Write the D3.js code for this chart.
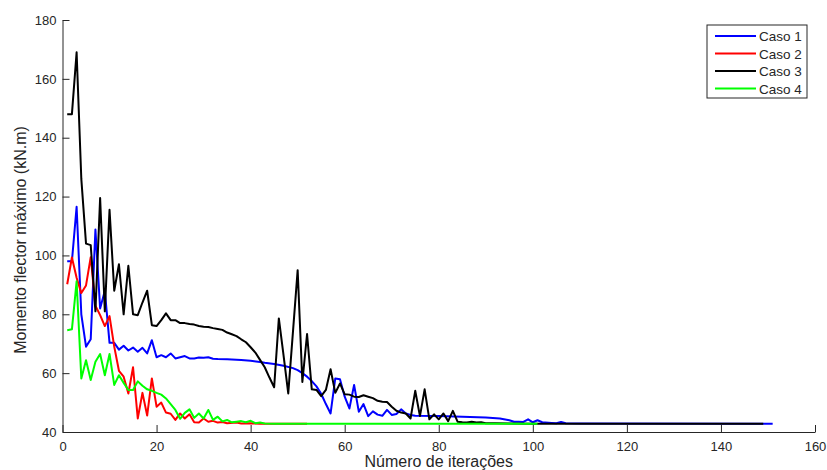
<!DOCTYPE html>
<html>
<head>
<meta charset="utf-8">
<script src="https://cdn.jsdelivr.net/npm/d3@7"></script>
<style>
  body { margin: 0; background: #fff; }
  text { font-family: "Liberation Sans", Arial, sans-serif; fill: #262626; }
</style>
</head>
<body>
<div id="chart"></div>
<script>
// [iteration, momento] pairs
var caso1 = [[1,98],[2,98],[3,116.5],[4,80],[5,69],[6,71.5],[7,108.8],[8,82],[9,88],[10,70.3],
  [11,70.3],[12,68],[13,69.3],[14,67.7],[15,68.7],[16,67.3],[17,68.6],[18,66.7],[19,71.2],[20,65.4],
  [21,66.1],[22,65.4],[23,66.7],[24,65],[25,65.4],[26,65.8],[27,65],[28,65],[29,65.3],[30,65.2],
  [31,65.4],[32,64.9],[33,64.8],[35,64.7],[38,64.5],[40,64.2],[42,63.8],[43,63.5],[45,63.1],[47,62.5],
  [49,61.7],[50,61],[51,60],[52,58.8],[53,57.3],[54,55.5],[55,53],[56,49.5],[57,46.3],[58,58.2],
  [59,57.9],[60,52],[61,48],[62,56],[63,46.9],[64,49.5],[65,45.4],[66,47],[67,45.9],[68,45.5],
  [69,47.5],[70,45.8],[71,46.1],[72,47.7],[73,46.3],[74,45.8],[75,45.5],[80,45.4],[85,45.2],[90,44.9],
  [93,44.6],[95,44],[96,43.5],[97,43.5],[98,43.4],[99,44.3],[100,43.3],[101,44],[102,43.3],[104,43.1],
  [105,43],[106,43.4],[107,43],[110,42.9],[151,42.8]];

var caso2 = [[1,90.2],[2,99.3],[3,92.4],[4,87.2],[5,89.8],[6,99.4],[7,82.9],[8,79.7],[9,76],[10,79.4],
  [11,69],[12,60.8],[13,58.8],[14,53.1],[15,62],[16,44.6],[17,53.3],[18,45.6],[19,58.2],[20,48.6],
  [21,50],[22,46.6],[23,46.2],[24,44.1],[25,46.3],[26,44.6],[27,46],[28,43.3],[29,43.2],[30,44.6],
  [31,43.5],[32,43.8],[33,43.2],[34,43.4],[35,43],[37,43.2],[38,42.9],[40,43],[42,42.8],[52,42.8]];

var caso3 = [[1,148],[2,148],[3,169],[4,126],[5,104],[6,103.5],[7,81],[8,119.5],[9,81],[10,115.5],
  [11,88],[12,97],[13,80],[14,96.5],[15,80],[16,79.7],[17,84],[18,88],[19,76.3],[20,76],
  [21,78],[22,80.3],[23,78],[24,78],[25,77],[26,77],[27,76.7],[28,76.5],[29,76],[30,75.8],
  [31,75.7],[32,75.3],[33,75],[34,74.7],[35,73.8],[36,73.2],[37,72.6],[38,71.5],[39,70.5],[40,68.8],
  [41,67],[42,64.5],[43,62],[44,58.5],[45,55.2],[46,78.6],[47,66],[48,53.1],[49,74],[50,95],
  [51,57],[52,73.3],[53,54.5],[54,54.3],[55,52.2],[56,54.3],[57,61.3],[58,53.3],[59,56.5],[60,52.8],
  [61,52.7],[62,52],[63,51.9],[64,52.5],[65,52],[66,51.5],[67,50.6],[68,50.3],[69,50.2],[70,48.6],
  [71,47.2],[72,46.6],[73,46.3],[74,44.6],[75,54],[76,45.4],[77,54.5],[78,44.3],[79,46],[80,44.3],
  [81,46.3],[82,43.7],[83,47.2],[84,43.5],[85,43.3],[86,43.2],[87,43.5],[88,43.2],[89,43.3],[90,43],
  [92,43],[95,42.9],[100,42.8],[149,42.8]];

var caso4 = [[1,74.6],[2,74.9],[3,91.2],[4,58.2],[5,64.4],[6,57.7],[7,63.9],[8,66.5],[9,59.3],[10,66.5],
  [11,56],[12,59.3],[13,56.7],[14,54.3],[15,54.3],[16,57.2],[17,55.7],[18,54.5],[19,54],[20,53.3],
  [21,52.7],[22,51.4],[23,49.5],[24,47.5],[25,44.5],[26,46.5],[27,47.7],[28,44.8],[29,46.3],[30,44.6],
  [31,47.5],[32,44.1],[33,45.2],[34,43.6],[35,44.1],[36,43.3],[37,43.5],[38,43.7],[39,43.3],[40,43.8],
  [41,43],[42,43.2],[43,42.9],[45,42.8],[101,42.8]];

var seriesNames = ['Caso 1', 'Caso 2', 'Caso 3', 'Caso 4'];
var seriesColors = ['#0000ff', '#ff0000', '#000000', '#00ff00'];
var xTicks = [0, 20, 40, 60, 80, 100, 120, 140, 160];
var yTicks = [40, 60, 80, 100, 120, 140, 160, 180];

var width = 827, height = 470;
var margin = {left: 62.5, right: 12, top: 20, bottom: 38};

var svg = d3.select('#chart').append('svg')
  .attr('width', width)
  .attr('height', height);

var x = d3.scaleLinear().domain([0, 160]).range([margin.left, width - margin.right]);
var y = d3.scaleLinear().domain([40, 180]).range([height - margin.bottom, margin.top]);

// axes, ticks pointing inwards like matlab
var xAxis = svg.append('g')
  .attr('transform', 'translate(0,' + (height - margin.bottom) + ')')
  .call(d3.axisBottom(x).tickValues(xTicks).tickSizeInner(-7).tickSizeOuter(0).tickPadding(10));
var yAxis = svg.append('g')
  .attr('transform', 'translate(' + margin.left + ',0)')
  .call(d3.axisLeft(y).tickValues(yTicks).tickSizeInner(-7).tickSizeOuter(0).tickPadding(6));

[xAxis, yAxis].forEach(function(ax) {
  ax.selectAll('path, line').attr('stroke', '#262626');
  ax.selectAll('text').style('font-size', '13px')
    .style('font-family', '"Liberation Sans", Arial, sans-serif').attr('fill', '#262626');
});

// data lines
var line = d3.line()
  .x(function(d) { return x(d[0]); })
  .y(function(d) { return y(d[1]); });

var allSeries = [caso1, caso2, caso3, caso4];
allSeries.forEach(function(s, i) {
  svg.append('path')
    .datum(s)
    .attr('d', line)
    .attr('fill', 'none')
    .attr('stroke', seriesColors[i])
    .attr('stroke-width', 2)
    .attr('stroke-linejoin', 'round');
});

// axis titles
svg.append('text')
  .attr('x', (margin.left + width - margin.right) / 2)
  .attr('y', 467)
  .attr('text-anchor', 'middle')
  .style('font-size', '16px')
  .text('Número de iterações');

svg.append('text')
  .attr('transform', 'translate(25.5,' + ((margin.top + height - margin.bottom) / 2 + 14) + ') rotate(-90)')
  .attr('text-anchor', 'middle')
  .style('font-size', '16px')
  .text('Momento flector máximo (kN.m)');

// legend
var legend = svg.append('g').attr('transform', 'translate(707,25)');
legend.append('rect')
  .attr('width', 100)
  .attr('height', 73)
  .attr('fill', '#fff')
  .attr('stroke', '#262626')
  .attr('stroke-width', 1);

seriesNames.forEach(function(name, i) {
  var ly = 11 + i * 17.5;
  legend.append('line')
    .attr('x1', 8).attr('x2', 49)
    .attr('y1', ly).attr('y2', ly)
    .attr('stroke', seriesColors[i])
    .attr('stroke-width', 2);
  legend.append('text')
    .attr('x', 52)
    .attr('y', ly + 5)
    .style('font-size', '13.5px')
    .text(name);
});
</script>
</body>
</html>
